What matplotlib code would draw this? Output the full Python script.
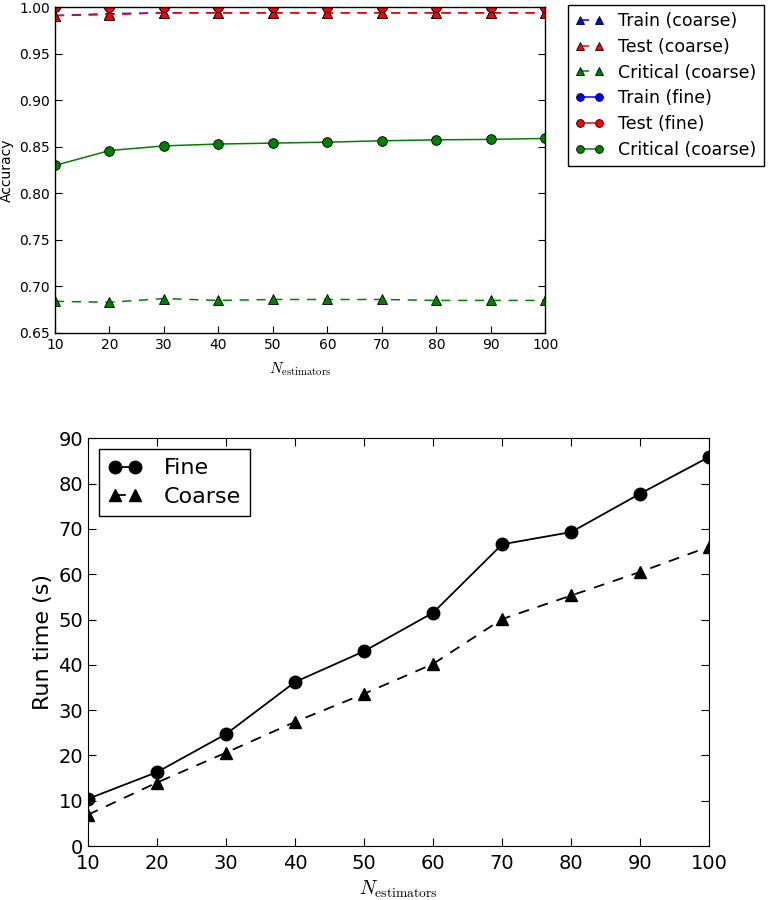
import matplotlib
matplotlib.use("Agg")
import matplotlib.pyplot as plt

plt.rcParams['mathtext.fontset'] = 'cm'
plt.rcParams['font.family'] = ['DejaVu Sans']

n_est = [10, 20, 30, 40, 50, 60, 70, 80, 90, 100]

train_coarse = [0.991, 0.993, 0.994, 0.994, 0.994, 0.994, 0.994, 0.994, 0.994, 0.994]
test_coarse = [0.991, 0.992, 0.994, 0.994, 0.994, 0.994, 0.994, 0.994, 0.994, 0.994]
crit_coarse = [0.684, 0.683, 0.687, 0.685, 0.686, 0.686, 0.686, 0.685, 0.685, 0.685]
train_fine = [1.0, 1.0, 1.0, 1.0, 1.0, 1.0, 1.0, 1.0, 1.0, 1.0]
test_fine = [1.0, 1.0, 1.0, 1.0, 1.0, 1.0, 1.0, 1.0, 1.0, 1.0]
crit_fine = [0.830, 0.846, 0.851, 0.853, 0.854, 0.855, 0.8565, 0.8575, 0.858, 0.859]

time_fine = [10.4, 16.3, 24.7, 36.2, 43.0, 51.5, 66.6, 69.3, 77.8, 85.9]
time_coarse = [6.9, 14.0, 20.6, 27.4, 33.6, 40.2, 50.1, 55.3, 60.5, 66.1]

acc_ticks = [0.65, 0.70, 0.75, 0.80, 0.85, 0.90, 0.95, 1.00]
time_ticks = [0, 10, 20, 30, 40, 50, 60, 70, 80, 90]

fig = plt.figure(figsize=(7.71, 9.0), dpi=100)

ax1 = fig.add_axes([0.0713, 0.63, 0.636, 0.362])
kw_c = dict(marker='^', linestyle='--', dashes=(6, 5), markersize=7, markeredgecolor='black',
            markeredgewidth=0.6, linewidth=1.1)
kw_f = dict(marker='o', linestyle='-', markersize=7, markeredgecolor='black',
            markeredgewidth=0.6, linewidth=1.1)
ax1.plot(n_est, train_coarse, color='blue', label='Train (coarse)', **kw_c)
ax1.plot(n_est, test_coarse, color='red', label='Test (coarse)', **kw_c)
ax1.plot(n_est, crit_coarse, color='green', label='Critical (coarse)', **kw_c)
ax1.plot(n_est, train_fine, color='blue', label='Train (fine)', **kw_f)
ax1.plot(n_est, test_fine, color='red', label='Test (fine)', **kw_f)
ax1.plot(n_est, crit_fine, color='green', label='Critical (coarse)', **kw_f)
ax1.set_xlim(10, 100)
ax1.set_ylim(0.65, 1.00)
ax1.set_yticks(acc_ticks)
ax1.set_yticklabels(['%.2f' % t for t in acc_ticks])
ax1.set_xticks(n_est)
ax1.tick_params(direction='in', top=True, right=True, labelsize=10, length=5)
ax1.set_ylabel('Accuracy', fontsize=10)
ax1.set_xlabel(r'$N_{\mathrm{estimators}}$', fontsize=11, labelpad=6)
for s in ax1.spines.values():
    s.set_linewidth(1.0)
h, l = ax1.get_legend_handles_labels()
leg1 = fig.legend(h, l, loc='upper left', bbox_to_anchor=(568/771, 1-5/900),
                  fontsize=12.5, numpoints=2, fancybox=False, framealpha=1,
                  edgecolor='black', borderaxespad=0, handlelength=1.7,
                  labelspacing=0.45, borderpad=0.4, markerscale=0.8,
                  handletextpad=0.8)
leg1.get_frame().set_linewidth(1.0)

ax2 = fig.add_axes([0.114, 0.06, 0.806, 0.453])
ax2.plot(n_est, time_fine, color='black', marker='o', linestyle='-', markersize=9,
         linewidth=1.3, label='Fine')
ax2.plot(n_est, time_coarse, color='black', marker='^', linestyle='--', dashes=(6, 5),
         markersize=9, linewidth=1.3, label='Coarse')
ax2.set_xlim(10, 100)
ax2.set_ylim(0, 90)
ax2.set_xticks(n_est)
ax2.set_yticks(time_ticks)
ax2.tick_params(direction='in', top=True, right=True, labelsize=14, length=6)
ax2.tick_params(axis='x', pad=6)
ax2.set_ylabel('Run time (s)', fontsize=16)
ax2.set_xlabel(r'$N_{\mathrm{estimators}}$', fontsize=14)
leg2 = ax2.legend(loc='upper left', fontsize=16, numpoints=2, fancybox=False,
                  framealpha=1, edgecolor='black', handlelength=1.5,
                  handletextpad=1.0, labelspacing=0.4)
leg2.get_frame().set_linewidth(1.0)

fig.savefig('out.png', dpi=100)
